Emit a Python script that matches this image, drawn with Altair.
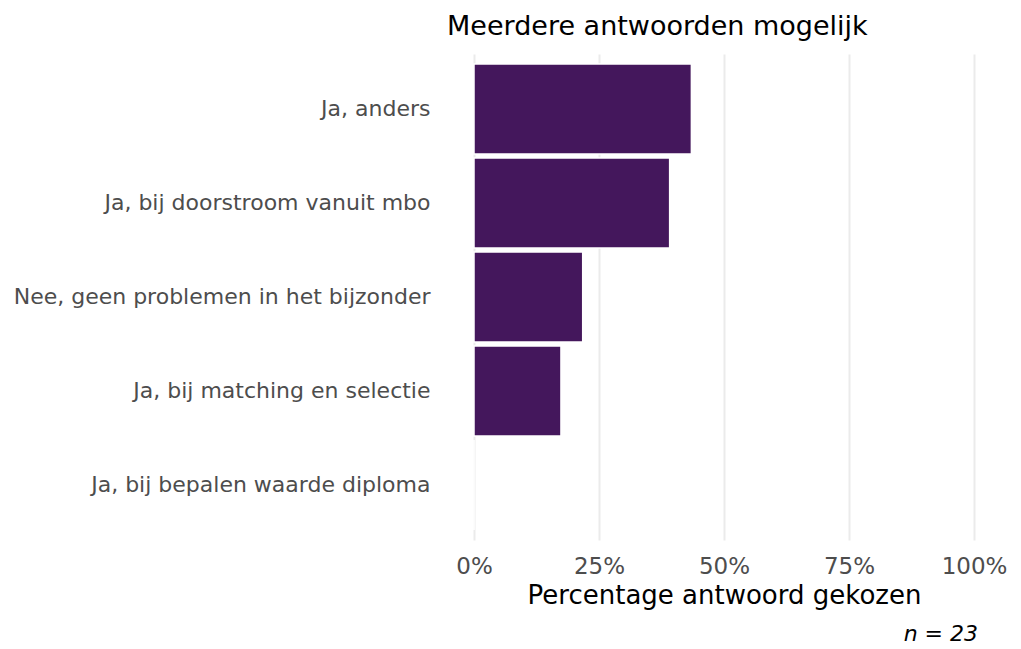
import altair as alt
import pandas as pd

categories = [
    "Ja, anders",
    "Ja, bij doorstroom vanuit mbo",
    "Nee, geen problemen in het bijzonder",
    "Ja, bij matching en selectie",
    "Ja, bij bepalen waarde diploma",
]
counts = [10, 9, 5, 4, 0]
n_total = 23
tick_values = [0, 0.25, 0.5, 0.75, 1.0]

df = pd.DataFrame({
    "antwoord": categories,
    "pct": [c / n_total for c in counts],
})

FONT = "DejaVu Sans"
W, H = 500, 486

bars = alt.Chart(df).mark_bar(color="#44175C", stroke="white", strokeWidth=1.5).encode(
    x=alt.X(
        "pct:Q",
        scale=alt.Scale(domain=[0, 1], nice=False),
        axis=alt.Axis(
            values=tick_values,
            format=".0%",
            title="Percentage antwoord gekozen",
            titleFont=FONT,
            titleFontSize=26,
            titleFontWeight="normal",
            titleColor="black",
            titlePadding=4,
            labelFont=FONT,
            labelFontSize=23,
            labelColor="#4d4d4d",
            labelPadding=15,
            labelFlush=False,
            grid=True,
            gridColor="#ebebeb",
            gridWidth=2,
            domain=False,
            ticks=False,
        ),
    ),
    y=alt.Y(
        "antwoord:N",
        sort=categories,
        scale=alt.Scale(paddingInner=0.043, paddingOuter=0.107),
        axis=alt.Axis(
            title=None,
            labelFont=FONT,
            labelFontSize=22,
            labelColor="#4d4d4d",
            labelPadding=44,
            labelLimit=700,
            domain=False,
            ticks=False,
            grid=False,
        ),
    ),
)

caption = alt.Chart(pd.DataFrame({"t": [f"n = {n_total}"]})).mark_text(
    font=FONT, fontSize=22, fontStyle="italic", align="right", baseline="middle", color="black"
).encode(
    text="t:N",
    x=alt.value(W + 4),
    y=alt.value(H + 94),
)

chart = alt.layer(bars, caption).properties(
    width=W,
    height=H,
    title=alt.TitleParams(
        "Meerdere antwoorden mogelijk",
        font=FONT,
        fontSize=27,
        fontWeight="normal",
        color="black",
        anchor="start",
        frame="group",
        dx=-27,
        offset=13,
    ),
).configure_view(stroke=None)

chart.save("out.html", embed_options={"renderer": "svg", "actions": False})
